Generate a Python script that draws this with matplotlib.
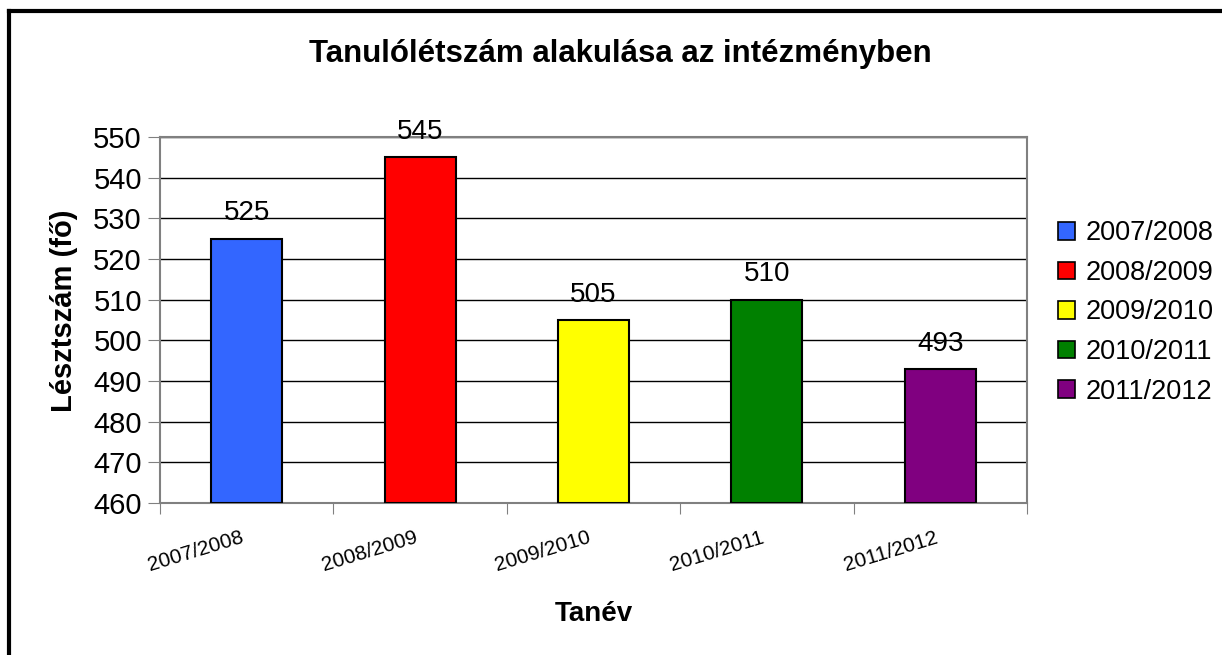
import matplotlib.pyplot as plt
from matplotlib.patches import Patch
from matplotlib.lines import Line2D
from matplotlib.transforms import ScaledTranslation

plt.rcParams['font.family'] = ['Liberation Sans', 'DejaVu Sans']

tanev = ['2007/2008', '2008/2009', '2009/2010', '2010/2011', '2011/2012']
letszam = [525, 545, 505, 510, 493]
szinek = ['#3366FF', '#FF0000', '#FFFF00', '#008000', '#800080']

fig = plt.figure(figsize=(12.22, 6.55), dpi=100)
ax = fig.add_axes([0.1309, 0.2321, 0.7095, 0.5587])

x = list(range(len(tanev)))
ax.bar(x, [v - 460 for v in letszam], bottom=460, width=0.41,
       color=szinek, edgecolor='black', linewidth=1.5, zorder=3)
for xi, v in zip(x, letszam):
    ax.text(xi, v + 3.0, str(v), ha='center', va='bottom', fontsize=20)

ax.set_xlim(-0.5, 4.5)
ax.set_ylim(460, 550)
ax.set_yticks(range(460, 551, 10))
ax.yaxis.grid(True, color='black', linewidth=1, zorder=0)
ax.tick_params(axis='y', labelsize=21, length=9, color='#808080', pad=4)

# ticks between categories, labels in the middle
ax.set_xticks([i - 0.5 for i in range(len(tanev) + 1)])
ax.set_xticklabels([])
ax.tick_params(axis='x', which='major', length=8, color='#808080')
ax.set_xticks(x, minor=True)
ax.set_xticklabels(tanev, minor=True, rotation=17, ha='right',
                   rotation_mode='anchor', fontsize=15)
ax.tick_params(axis='x', which='minor', length=0, pad=18)
shift = ScaledTranslation(-6 / 100, 0, fig.dpi_scale_trans)
for lbl in ax.get_xticklabels(minor=True):
    lbl.set_transform(lbl.get_transform() + shift)

for s in ax.spines.values():
    s.set_color('#808080')
    s.set_linewidth(1.5)

ax.set_ylabel('Lésztszám (fő)', fontsize=21, fontweight='bold')
ax.yaxis.set_label_coords(-0.095, 0.525)
ax.set_xlabel('Tanév', fontsize=20, fontweight='bold', labelpad=19)
fig.text(0.508, 0.918, 'Tanulólétszám alakulása az intézményben',
         ha='center', va='center', fontsize=22.5, fontweight='bold')

handles = [Patch(facecolor=c, edgecolor='black', linewidth=1.2) for c in szinek]
fig.legend(handles, tanev, loc='center left', bbox_to_anchor=(0.857, 0.523),
           frameon=False, fontsize=19.5, handlelength=0.62, handleheight=0.62,
           handletextpad=0.4, labelspacing=0.5, borderaxespad=0)

fig.add_artist(Line2D([0.0075, 0.0075], [0.0, 0.983], transform=fig.transFigure,
                      color='black', linewidth=3))
fig.add_artist(Line2D([0.0075, 1.0], [0.983, 0.983], transform=fig.transFigure,
                      color='black', linewidth=3))

fig.savefig('out.png', dpi=100)
